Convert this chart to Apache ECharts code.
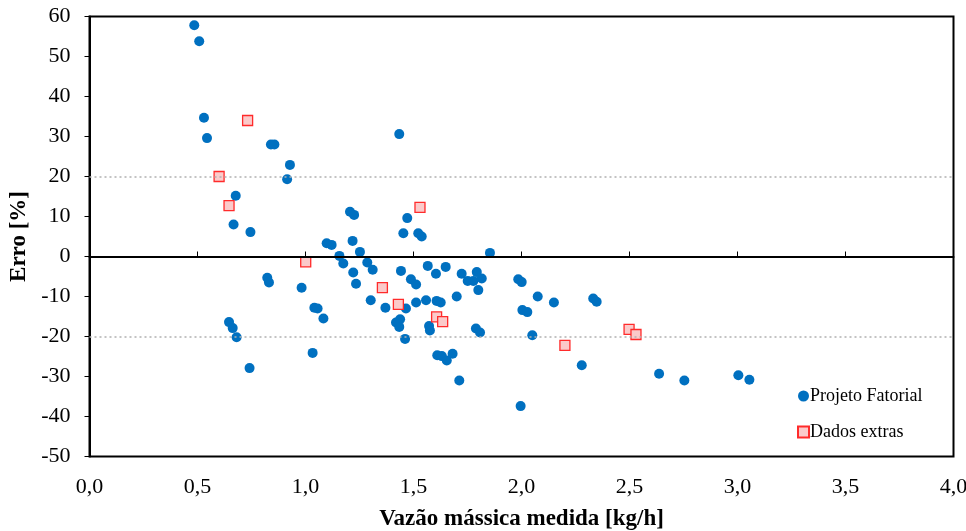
<!DOCTYPE html>
<html>
<head>
<meta charset="utf-8">
<script src="https://cdn.jsdelivr.net/npm/echarts@6/dist/echarts.min.js"></script>
<style>
  html, body { margin: 0; padding: 0; background: #fff; }
  #chart { width: 966px; height: 531px; }
</style>
</head>
<body>
<div id="chart"></div>
<script>
const pfX = [0.485, 0.508, 0.530, 0.544, 0.840, 0.856, 0.928, 0.915, 0.677, 0.667, 0.745, 1.206, 1.225, 1.098, 1.121, 1.218, 1.157, 1.175, 1.252, 1.286, 1.311, 1.221, 1.234, 1.302, 0.823, 0.831, 0.982, 1.041, 1.056, 1.083, 0.646, 0.663, 0.681, 1.033, 0.741, 1.434, 1.471, 1.453, 1.522, 1.538, 1.854, 1.370, 1.442, 1.488, 1.512, 1.465, 1.512, 1.558, 1.566, 1.604, 1.649, 1.607, 1.626, 1.700, 1.723, 1.751, 1.777, 1.793, 1.816, 1.800, 1.419, 1.438, 1.434, 1.461, 1.572, 1.576, 1.610, 1.631, 1.654, 1.681, 1.712, 1.789, 1.808, 1.985, 2.001, 2.004, 2.027, 2.075, 2.150, 2.050, 2.279, 2.332, 2.348, 1.996, 2.637, 2.754, 3.004, 3.055]
const pfY = [57.8, 53.8, 34.7, 29.6, 28.0, 28.0, 22.9, 19.3, 15.2, 8.0, 6.1, 11.2, 10.4, 3.3, 2.9, 3.9, 0.15, -1.75, 1.15, -1.5, -3.3, -4.0, -6.8, -10.95, -5.3, -6.5, -7.8, -12.8, -13.0, -15.5, -16.4, -17.9, -20.2, -24.1, -27.9, 30.6, 9.6, 5.8, 5.8, 5.0, 0.9, -12.8, -3.6, -5.7, -7.0, -13.0, -11.5, -10.95, -2.35, -4.3, -2.6, -11.1, -11.5, -10.0, -4.3, -6.1, -6.1, -3.9, -5.5, -8.4, -16.5, -15.7, -17.6, -20.6, -17.4, -18.5, -24.7, -24.9, -26.0, -24.3, -31.0, -18.0, -19.0, -5.7, -6.4, -13.4, -13.9, -10.0, -11.5, -19.7, -27.2, -10.5, -11.3, -37.4, -29.3, -31.0, -29.7, -30.8]

const deX = [0.732, 0.600, 0.646, 1.001, 1.356, 1.430, 1.530, 1.607, 1.635, 2.201, 2.498, 2.530]
const deY = [34.0, 20.0, 12.7, -1.35, -7.8, -11.95, 12.3, -15.1, -16.3, -22.2, -18.2, -19.5]

const names = ['Projeto Fatorial', 'Dados extras']
const refLines = [20, -20]

const serif = '"Liberation Serif", "DejaVu Serif", serif'

const option = {
  animation: false,
  textStyle: { fontFamily: serif, color: '#000' },
  grid: {
    left: 89.5, right: 12.5, top: 16.5, bottom: 74.5,
    outerBoundsMode: 'none',
    containLabel: false,
    show: true, borderColor: '#000', borderWidth: 2
  },
  legend: {
    orient: 'vertical',
    left: 797, top: 387,
    padding: 0,
    itemGap: 18,
    itemWidth: 11, itemHeight: 11,
    textStyle: { fontFamily: serif, fontSize: 18, color: '#000', padding: [0, 0, 0, -4] },
    data: [
      { name: names[0], icon: 'circle' },
      { name: names[1], icon: 'rect' }
    ]
  },
  xAxis: {
    type: 'value',
    min: 0, max: 4, interval: 0.5,
    name: 'Vazão mássica medida [kg/h]',
    nameLocation: 'middle',
    nameGap: 51,
    nameTextStyle: { fontFamily: serif, fontSize: 23, fontWeight: 'bold', color: '#000' },
    axisLine: { show: true, lineStyle: { color: '#000', width: 2 } },
    axisTick: { show: true, inside: true, length: 5, lineStyle: { color: '#000' } },
    axisLabel: {
      fontFamily: serif, fontSize: 22, color: '#000', margin: 20,
      formatter: v => v.toFixed(1).replace('.', ',')
    },
    splitLine: { show: false }
  },
  yAxis: {
    type: 'value',
    min: -50, max: 60, interval: 10,
    name: 'Erro [%]',
    nameLocation: 'middle',
    nameGap: 56,
    nameTextStyle: { fontFamily: serif, fontSize: 23, fontWeight: 'bold', color: '#000' },
    axisLine: { show: true, lineStyle: { color: '#000', width: 2 } },
    axisTick: { show: true, inside: false, length: 5, lineStyle: { color: '#000' } },
    axisLabel: { fontFamily: serif, fontSize: 22, color: '#000', margin: 19 },
    splitLine: { show: false }
  },
  series: [
    {
      name: names[0],
      type: 'scatter',
      symbol: 'circle',
      symbolSize: 10,
      itemStyle: { color: '#0070C0', opacity: 1 },
      data: pfX.map((x, i) => [x, pfY[i]]),
      z: 3,
      markLine: {
        silent: true,
        symbol: 'none',
        label: { show: false },
        data: [
          ...refLines.map(v => ({ yAxis: v, lineStyle: { color: '#b0b0b0', type: [2, 3], width: 1.5 } })),
          { yAxis: 0, lineStyle: { color: '#000', type: 'solid', width: 2 } }
        ]
      }
    },
    {
      name: names[1],
      type: 'scatter',
      symbol: 'rect',
      symbolSize: 10,
      itemStyle: { color: '#FBCACA', borderColor: '#FF2B2B', borderWidth: 1.3, opacity: 1 },
      data: deX.map((x, i) => [x, deY[i]]),
      z: 4
    }
  ]
}

const chart = echarts.init(document.getElementById('chart'))
chart.setOption(option)
</script>
</body>
</html>
